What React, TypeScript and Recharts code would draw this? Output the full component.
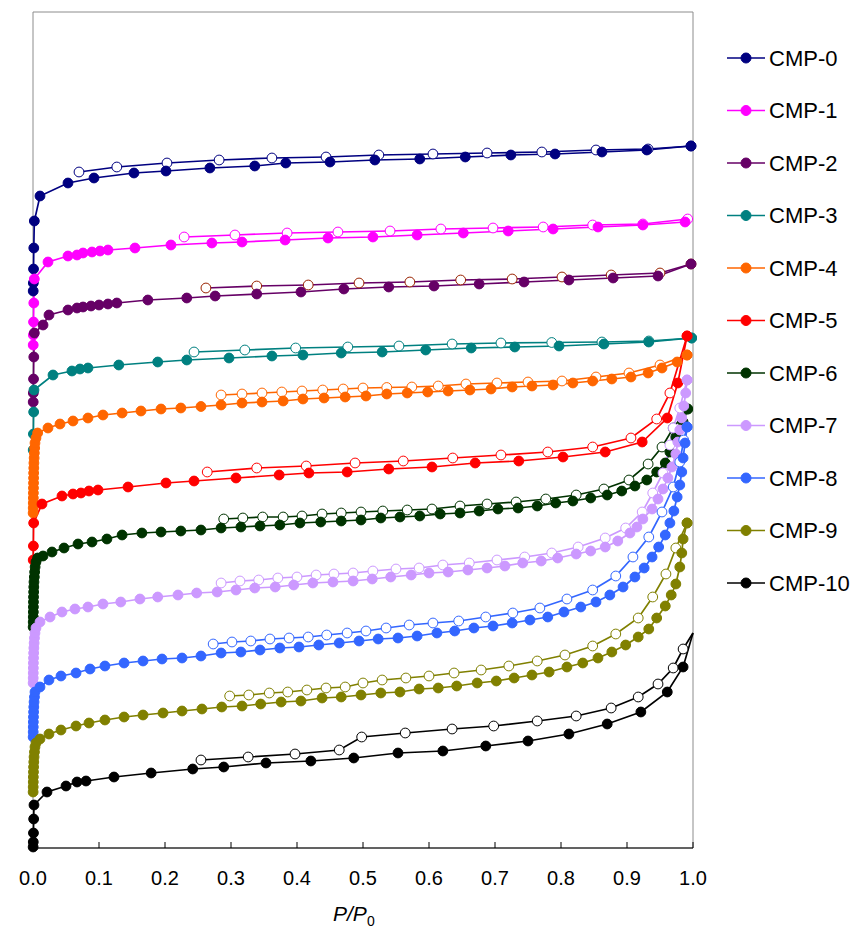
import React from 'react';
import { ComposedChart, Line, XAxis, YAxis, ReferenceArea } from 'recharts';

type P = [number, number];

const seriesNames = ['CMP-0', 'CMP-1', 'CMP-2', 'CMP-3', 'CMP-4', 'CMP-5', 'CMP-6', 'CMP-7', 'CMP-8', 'CMP-9', 'CMP-10'];
const seriesColors = ['#000080', '#FF00FF', '#660066', '#008080', '#FF6600', '#FF0000', '#003300', '#CC99FF', '#3366FF', '#808000', '#000000'];
const desMarkerColors = ['#000080', '#FF00FF', '#992200', '#008080', '#FF6600', '#FF0000', '#003300', '#CC99FF', '#3366FF', '#808000', '#000000'];
const xTicks = [0, 0.1, 0.2, 0.3, 0.4, 0.5, 0.6, 0.7, 0.8, 0.9, 1.0];

const cmp0Ads: P[] = [[0.0003,557],[0.0005,565],[0.0008,579],[0.0012,600],[0.002,627],[0.0106,652],[0.053,665],[0.0924,670],[0.153,675],[0.2015,677],[0.268,680],[0.336,682],[0.383,685],[0.45,686],[0.518,688],[0.586,689],[0.655,691],[0.724,693],[0.791,694],[0.862,696],[0.93,698],[0.997,702]];
const cmp0Des: P[] = [[0.997,702],[0.932,699],[0.853,698],[0.771,696],[0.688,695],[0.606,694],[0.524,693],[0.444,691],[0.362,690],[0.282,688],[0.203,685],[0.127,681],[0.0697,676]];

const cmp1Ads: P[] = [[0.0003,503],[0.0005,513],[0.0008,526],[0.0012,545],[0.002,569],[0.0227,586],[0.053,592],[0.0667,593],[0.0758,595],[0.0894,596],[0.1015,597],[0.1136,598],[0.1545,600],[0.209,603],[0.271,605],[0.3167,606],[0.382,608],[0.447,610],[0.515,611],[0.582,613],[0.652,615],[0.72,617],[0.788,619],[0.856,621],[0.924,623],[0.988,626]];
const cmp1Des: P[] = [[0.992,629],[0.924,624],[0.848,623],[0.773,621],[0.697,620],[0.618,619],[0.541,617],[0.462,616],[0.385,615],[0.306,613],[0.229,611]];

const cmp2Ads: P[] = [[0.0003,446],[0.0005,455],[0.0008,469],[0.0012,491],[0.002,515],[0.0152,523],[0.0242,533],[0.053,538],[0.0667,540],[0.0758,541],[0.0879,542],[0.1,543],[0.1136,544],[0.127,545],[0.174,548],[0.233,550],[0.276,552],[0.339,554],[0.406,556],[0.471,559],[0.539,561],[0.6076,562],[0.676,564],[0.744,566],[0.812,568],[0.879,570],[0.947,572],[0.997,584]];
const cmp2Des: P[] = [[0.997,584],[0.95,575],[0.876,573],[0.8015,571],[0.726,569],[0.648,568],[0.571,566],[0.494,565],[0.417,563],[0.339,562],[0.262,560]];

const cmp3Ads: P[] = [[0.0003,398],[0.0006,414],[0.001,436],[0.0015,458],[0.0303,473],[0.059,477],[0.0712,479],[0.0833,480],[0.13,483],[0.189,486],[0.233,488],[0.297,490],[0.362,492],[0.409,493],[0.467,495],[0.529,496],[0.595,498],[0.664,500],[0.73,501],[0.797,502],[0.865,504],[0.933,506],[0.998,510]];
const cmp3Des: P[] = [[0.998,510],[0.933,507],[0.862,506],[0.786,505.5],[0.709,505],[0.635,504],[0.5545,502],[0.477,501],[0.398,500],[0.321,498],[0.244,496]];

const cmp4Ads: P[] = [[0.0002,335],[0.0003,340],[0.0004,345],[0.0005,350],[0.0006,355],[0.0007,360],[0.0008,365],[0.0009,370],[0.001,375],[0.0012,380],[0.0014,385],[0.0017,390],[0.002,395],[0.0025,400],[0.003,405],[0.0045,410],[0.007,415],[0.0227,420],[0.0409,424],[0.0606,427],[0.0833,430],[0.106,433],[0.135,435],[0.1636,437],[0.194,439],[0.224,440],[0.2545,441.5],[0.285,443],[0.3167,445],[0.347,446],[0.379,447],[0.409,449],[0.441,450],[0.473,451],[0.5045,452],[0.536,454],[0.567,455],[0.598,456],[0.629,457],[0.662,458],[0.694,459],[0.726,461],[0.756,462],[0.788,463],[0.818,465],[0.848,467],[0.877,469],[0.906,471],[0.932,475],[0.953,480],[0.976,486],[0.991,493]];
const cmp4Des: P[] = [[0.991,493],[0.95,483],[0.903,475],[0.853,471],[0.8015,467],[0.75,466],[0.703,465],[0.656,464],[0.614,462],[0.574,461],[0.536,460.5],[0.5,460],[0.47,459],[0.439,458],[0.4076,457],[0.377,456],[0.347,455],[0.3167,454],[0.285,453]];

const cmp5Ads: P[] = [[0.0003,288],[0.0006,302],[0.001,325],[0.0136,344],[0.0439,352],[0.0606,354],[0.0727,355],[0.0848,357],[0.0985,358],[0.144,361],[0.2015,365],[0.244,367],[0.3076,370],[0.373,373],[0.418,375],[0.476,376],[0.539,379],[0.6045,381],[0.67,385],[0.736,387],[0.803,391],[0.867,396],[0.923,406],[0.961,430],[0.977,465],[0.991,512]];
const cmp5Des: P[] = [[0.991,512],[0.965,455],[0.945,429],[0.906,410],[0.848,401],[0.78,396],[0.709,393],[0.636,390],[0.561,387],[0.488,385],[0.414,382],[0.339,380],[0.264,376]];

const cmp6Ads: P[] = [[0.0002,221],[0.0003,226],[0.0004,231],[0.0005,236],[0.0006,241],[0.0007,246],[0.0008,251],[0.001,256],[0.0012,261],[0.0015,266],[0.002,271],[0.0025,276],[0.0032,281],[0.0045,286],[0.007,290],[0.0152,292],[0.0288,296],[0.047,300],[0.0682,304],[0.0894,306],[0.112,309],[0.135,313],[0.165,315],[0.194,316],[0.224,317],[0.2545,318],[0.285,320],[0.315,321],[0.344,322],[0.374,323],[0.4045,325],[0.436,326],[0.467,327],[0.497,328],[0.527,330],[0.556,331],[0.586,332],[0.617,334],[0.647,335],[0.676,337],[0.7045,339],[0.735,340],[0.764,342],[0.792,345],[0.818,347],[0.845,350],[0.87,353],[0.892,357],[0.912,362],[0.93,368],[0.945,376],[0.958,385],[0.965,396],[0.974,411],[0.985,426],[0.992,439]];
const cmp6Des: P[] = [[0.992,439],[0.97,420],[0.953,401],[0.932,384],[0.903,368],[0.865,359],[0.823,353],[0.777,349],[0.732,346],[0.688,344],[0.647,342],[0.6045,339],[0.567,338],[0.53,337],[0.497,336],[0.467,335],[0.438,334],[0.4076,332],[0.379,331],[0.348,331],[0.318,330],[0.289,329]];

const cmp7Ads: P[] = [[0.0002,165],[0.0003,170],[0.0004,175],[0.0005,180],[0.0006,185],[0.0008,190],[0.001,195],[0.0013,200],[0.0017,205],[0.0022,210],[0.003,215],[0.0045,220],[0.0106,226],[0.0258,231],[0.0439,236],[0.0636,239],[0.0833,241],[0.106,244],[0.133,246],[0.162,249],[0.189,251],[0.2197,253],[0.248,255],[0.279,256],[0.3076,258],[0.336,260],[0.367,261],[0.395,263],[0.424,265],[0.4545,266],[0.485,267],[0.514,269],[0.542,271],[0.573,273],[0.6,275],[0.629,276],[0.659,278],[0.688,280],[0.715,282],[0.742,285],[0.77,287],[0.795,290],[0.823,294],[0.845,297],[0.867,301],[0.886,307],[0.9045,315],[0.915,321],[0.924,329],[0.938,339],[0.947,349],[0.9545,359],[0.962,370],[0.968,381],[0.974,394],[0.977,406],[0.98,418],[0.983,430],[0.986,442],[0.989,455],[0.991,468]];
const cmp7Des: P[] = [[0.991,468],[0.98,440],[0.97,420],[0.965,403],[0.9545,375],[0.939,355],[0.923,336],[0.898,320],[0.867,310],[0.826,301],[0.786,295],[0.745,291],[0.703,288],[0.661,285],[0.621,283],[0.585,280],[0.55,279],[0.515,277],[0.485,275],[0.456,274],[0.429,273],[0.4,271],[0.371,270],[0.342,268],[0.3136,267],[0.285,265]];

const cmp8Ads: P[] = [[0.0002,111],[0.0003,116],[0.0004,121],[0.0005,126],[0.0007,131],[0.0009,136],[0.0012,141],[0.0016,146],[0.0022,151],[0.003,156],[0.0106,161],[0.0242,168],[0.0424,172],[0.0652,175],[0.0864,179],[0.109,182],[0.138,185],[0.1667,187],[0.1955,189],[0.2258,190],[0.2545,192],[0.285,195],[0.315,196],[0.344,198],[0.374,200],[0.403,201],[0.433,203],[0.464,205],[0.494,207],[0.523,209],[0.553,210],[0.582,212],[0.612,215],[0.639,217],[0.668,220],[0.697,222],[0.726,225],[0.753,228],[0.78,231],[0.8045,236],[0.83,241],[0.853,246],[0.874,253],[0.894,261],[0.912,271],[0.926,280],[0.938,291],[0.948,301],[0.958,313],[0.965,325],[0.971,337],[0.976,351],[0.98,363],[0.983,376],[0.985,390],[0.988,405],[0.991,421]];
const cmp8Des: P[] = [[0.991,421],[0.986,408],[0.98,386],[0.97,361],[0.953,336],[0.933,311],[0.909,291],[0.883,272],[0.848,258],[0.809,249],[0.768,240],[0.727,235],[0.686,231],[0.645,227],[0.606,225],[0.57,223],[0.535,220],[0.5045,217],[0.476,215],[0.445,213],[0.417,211],[0.388,210],[0.359,209],[0.33,207],[0.3015,206],[0.273,204]];

const cmp9Ads: P[] = [[0.0002,56],[0.0003,61],[0.0004,66],[0.0005,71],[0.0007,76],[0.0009,81],[0.0012,86],[0.0016,91],[0.0022,96],[0.003,101],[0.0045,105],[0.0106,109],[0.0242,114],[0.0424,118],[0.0652,122],[0.0848,125],[0.109,128],[0.138,131],[0.1667,133],[0.197,135],[0.2258,137],[0.256,139],[0.286,141],[0.3167,142],[0.345,144],[0.376,146],[0.406,147],[0.438,150],[0.467,151],[0.497,153],[0.527,155],[0.556,156],[0.585,159],[0.614,160],[0.642,162],[0.673,165],[0.702,167],[0.729,170],[0.756,173],[0.782,176],[0.809,181],[0.833,185],[0.856,190],[0.877,196],[0.898,203],[0.917,211],[0.933,219],[0.945,230],[0.958,242],[0.967,253],[0.974,264],[0.98,281],[0.983,295],[0.985,309],[0.991,325]];
const cmp9Des: P[] = [[0.991,325],[0.974,300],[0.959,274],[0.939,251],[0.917,230],[0.883,214],[0.848,202],[0.806,193],[0.764,187],[0.721,182],[0.679,178],[0.638,175],[0.6,172],[0.565,170],[0.529,168],[0.5,165],[0.473,161],[0.444,160],[0.415,158],[0.386,156],[0.358,155],[0.327,153],[0.298,152]];

const cmp10Ads: P[] = [[0.0002,1],[0.0004,6],[0.0007,15],[0.001,29],[0.0015,43],[0.0212,56],[0.05,62],[0.0667,66],[0.0803,67],[0.1227,71],[0.179,75],[0.242,79],[0.289,81],[0.353,85],[0.421,87],[0.486,90],[0.553,95],[0.621,97],[0.686,102],[0.75,107],[0.812,114],[0.87,124],[0.921,136],[0.961,156],[0.985,181],[1,215]];
const cmp10Des: P[] = [[1,215],[0.985,199],[0.97,180],[0.947,164],[0.917,151],[0.876,140],[0.823,132],[0.764,127],[0.698,122],[0.635,119],[0.564,115],[0.498,111],[0.464,98],[0.397,94],[0.326,91],[0.2545,88]];

const adsorption: P[][] = [cmp0Ads, cmp1Ads, cmp2Ads, cmp3Ads, cmp4Ads, cmp5Ads, cmp6Ads, cmp7Ads, cmp8Ads, cmp9Ads, cmp10Ads];
const desorption: P[][] = [cmp0Des, cmp1Des, cmp2Des, cmp3Des, cmp4Des, cmp5Des, cmp6Des, cmp7Des, cmp8Des, cmp9Des, cmp10Des];

const toRows = (pts: P[]) => pts.map(([x, y]) => ({ x, y }));

const FONT = '"Liberation Sans", Arial, Helvetica, sans-serif';

const makeDot = (stroke: string, fill: string) => (props: any) => {
  const { cx, cy, payload, index } = props;
  const key = `dot-${index}`;
  if (cx == null || cy == null || (payload && payload.x >= 1)) return <g key={key} />;
  return <circle key={key} cx={cx} cy={cy} r={4.9} fill={fill} stroke={stroke} strokeWidth={1} />;
};

const AxisTitle = (props: any) => {
  const vb = props.viewBox || { x: 25, y: 840, width: 660, height: 81 };
  return (
    <text x={vb.x + 300} y={vb.y + 73} fontFamily={FONT} fontSize={21} fill="#000">
      <tspan fontStyle="italic">P</tspan>
      <tspan fontStyle="italic">/</tspan>
      <tspan fontStyle="italic">P</tspan>
      <tspan fontSize={14} dy={5}>0</tspan>
    </text>
  );
};

export default function App() {
  return (
    <div style={{ position: 'relative', width: 850, height: 921, fontFamily: FONT }}>
      <ComposedChart width={850} height={921} margin={{ top: 4, right: 165, bottom: 0, left: 25 }}>
        <ReferenceArea x1={0} x2={1} y1={0} y2={836} fill="none" stroke="#8c8c8c" strokeWidth={1} ifOverflow="visible" />
        <XAxis
          dataKey="x"
          type="number"
          domain={[0, 1]}
          ticks={xTicks}
          tickFormatter={(v: number) => v.toFixed(1)}
          axisLine={{ stroke: '#000', strokeWidth: 1 }}
          tickLine={{ stroke: '#000', strokeWidth: 1 }}
          tickSize={-6}
          tickMargin={29}
          height={81}
          tick={{ fill: '#000', fontSize: 20, fontFamily: FONT }}
          label={{ content: AxisTitle }}
        />
        <YAxis
          type="number"
          domain={[0, 836]}
          tick={false}
          tickLine={false}
          axisLine={{ stroke: '#000', strokeWidth: 1 }}
          width={0}
        />
        {seriesNames.map((name, i) => [
          <Line
            key={`des-${i}`}
            name={`${name} desorption`}
            data={toRows(desorption[i])}
            dataKey="y"
            type="linear"
            stroke={seriesColors[i]}
            strokeWidth={1.7}
            dot={makeDot(desMarkerColors[i], '#ffffff')}
            activeDot={false}
            isAnimationActive={false}
            legendType="none"
          />,
          <Line
            key={`ads-${i}`}
            name={name}
            data={toRows(adsorption[i])}
            dataKey="y"
            type="linear"
            stroke={seriesColors[i]}
            strokeWidth={1.7}
            dot={makeDot(seriesColors[i], seriesColors[i])}
            activeDot={false}
            isAnimationActive={false}
          />,
        ])}
      </ComposedChart>
      <svg
        width={131}
        height={921}
        style={{ position: 'absolute', left: 719, top: 0, overflow: 'visible' }}
      >
        {seriesNames.map((name, i) => {
          const cy = 50 + 52.5 * i;
          return (
            <g key={name}>
              <line x1={0} x2={38} y1={cy} y2={cy} stroke={seriesColors[i]} strokeWidth={1.7} />
              <circle cx={19} cy={cy} r={5} fill={seriesColors[i]} stroke={seriesColors[i]} strokeWidth={1} />
              <text x={42} y={cy} dy="0.36em" fontFamily={FONT} fontSize={22} fill="#000">
                {name}
              </text>
            </g>
          );
        })}
      </svg>
    </div>
  );
}
